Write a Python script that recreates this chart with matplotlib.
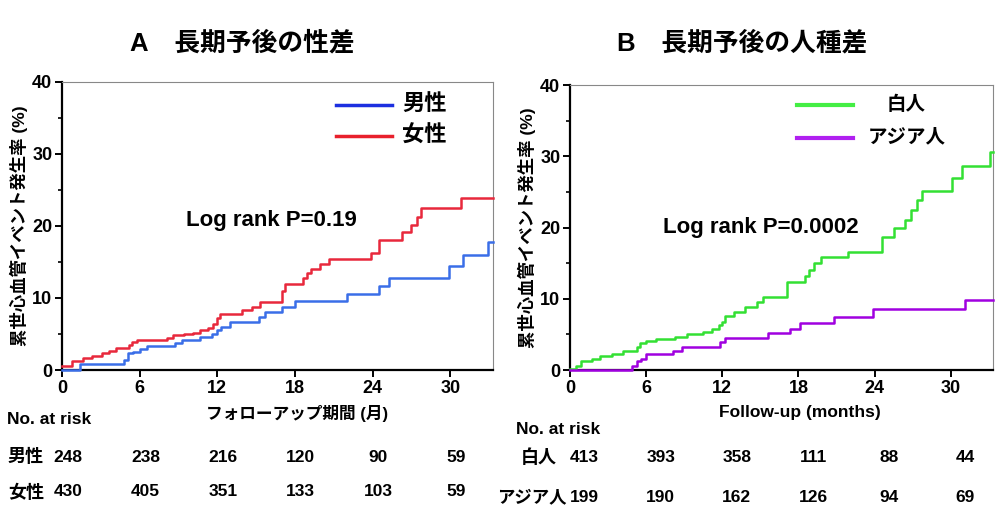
import matplotlib
matplotlib.use("Agg")
import matplotlib.pyplot as plt
from matplotlib.transforms import blended_transform_factory
from matplotlib.ticker import MultipleLocator

plt.rcParams['font.family'] = ['Liberation Sans', 'Noto Sans CJK JP', 'DejaVu Sans']
plt.rcParams['font.weight'] = 'bold'

# --- データ ---
male_t = [0, 1.4, 4.8, 5.1, 5.5, 6.0, 6.6, 8.7, 9.3, 10.7, 11.6, 12.0, 12.3, 13.0,
          15.2, 15.7, 17.0, 18.0, 22.0, 24.5, 25.3, 29.9, 31.0, 32.9, 33.3]
male_v = [0, 0.9, 1.4, 2.3, 2.5, 2.9, 3.3, 3.8, 4.2, 4.6, 5.0, 5.6, 6.0, 6.7,
          7.4, 8.0, 8.8, 9.6, 10.5, 11.6, 12.7, 14.4, 16.0, 17.8, 17.8]

female_t = [0, 0.8, 1.6, 2.3, 3.1, 3.6, 4.2, 5.2, 5.4, 5.8, 8.1, 8.6, 9.4, 10.1, 10.7,
            11.3, 11.7, 12.0, 12.2, 13.9, 14.7, 15.3, 17.0, 17.2, 18.6, 18.9, 19.2,
            19.9, 20.6, 23.9, 24.5, 26.3, 27.0, 27.4, 27.7, 30.8, 33.3]
female_v = [0.5, 1.2, 1.6, 1.9, 2.4, 2.7, 3.0, 3.5, 3.9, 4.2, 4.5, 4.8, 5.0, 5.2, 5.5,
            5.8, 6.4, 7.2, 7.8, 8.3, 8.8, 9.4, 11.0, 11.9, 12.7, 13.4, 14.0,
            14.7, 15.4, 16.3, 18.1, 19.1, 20.1, 21.3, 22.5, 23.8, 23.8]

white_t = [0, 0.5, 0.9, 1.7, 2.4, 3.3, 4.2, 5.3, 5.5, 6.0, 6.8, 8.3, 9.2, 10.5, 11.2,
           11.7, 12.0, 12.2, 12.9, 13.8, 14.7, 15.2, 17.1, 18.5, 18.8, 19.2, 19.8,
           21.9, 24.6, 25.5, 26.4, 26.9, 27.3, 27.7, 30.1, 30.9, 33.1, 33.3]
white_v = [0.2, 0.6, 1.2, 1.5, 1.9, 2.3, 2.7, 3.3, 3.8, 4.1, 4.3, 4.6, 5.0, 5.4, 5.8,
           6.3, 6.8, 7.6, 8.2, 8.8, 9.5, 10.2, 12.4, 13.2, 14.1, 15.0, 15.8,
           16.6, 18.7, 19.9, 21.1, 22.5, 23.9, 25.1, 26.9, 28.6, 30.6, 30.6]

asian_t = [0, 4.9, 5.3, 5.6, 6.0, 8.1, 8.8, 11.8, 12.2, 15.6, 17.3, 18.1, 20.8, 23.9, 31.1, 33.3]
asian_v = [0, 0.6, 1.2, 1.6, 2.2, 2.7, 3.2, 3.9, 4.5, 5.2, 5.8, 6.6, 7.5, 8.5, 9.8, 9.8]

risk_times = [0, 6, 12, 18, 24, 30]
risk_male = [248, 238, 216, 120, 90, 59]
risk_female = [430, 405, 351, 133, 103, 59]
risk_white = [413, 393, 358, 111, 88, 44]
risk_asian = [199, 190, 162, 126, 94, 69]

ylabel = "累世心血管イベント発生率 (%)"

fig = plt.figure(figsize=(10, 5.28), dpi=100)
axA = fig.add_axes([0.062, 0.2992, 0.431, 0.546])
axB = fig.add_axes([0.570, 0.2992, 0.4227, 0.5398])


def style_axes(ax):
    ax.set_xlim(0, 33.3)
    ax.set_ylim(0, 40)
    ax.set_xticks(risk_times)
    ax.yaxis.set_major_locator(MultipleLocator(10))
    ax.yaxis.set_minor_locator(MultipleLocator(5))
    for s in ['left', 'bottom']:
        ax.spines[s].set_linewidth(1.6)
        ax.spines[s].set_color('black')
    for s in ['top', 'right']:
        ax.spines[s].set_linewidth(0.8)
        ax.spines[s].set_color('#888888')
    ax.tick_params(axis='both', which='major', direction='out', length=5, width=1.4,
                   labelsize=13, pad=2)
    ax.tick_params(axis='y', which='minor', direction='out', length=3, width=1.2)
    for lab in ax.get_xticklabels() + ax.get_yticklabels():
        lab.set_fontweight('bold')
    ax.set_ylabel(ylabel, fontsize=12.5, fontweight='bold', labelpad=3)


# --- A ---
style_axes(axA)
axA.step(male_t, male_v, where='post', color='#3a6ee8', lw=1.8, clip_on=False, zorder=3)
axA.step(female_t, female_v, where='post', color='#e8283c', lw=1.8, clip_on=False, zorder=3)
axA.plot([21.2, 25.5], [36.8, 36.8], color='#1c2fe0', lw=2.5)
axA.plot([21.2, 25.5], [32.5, 32.5], color='#e8202c', lw=2.5)
axA.text(26.3, 36.8, "男性", fontsize=16, va='center', fontweight='bold')
axA.text(26.3, 32.5, "女性", fontsize=16, va='center', fontweight='bold')
axA.text(16.2, 20.8, "Log rank P=0.19", fontsize=16, ha='center', va='center', fontweight='bold')
fig.text(0.242, 0.918, "A　長期予後の性差", fontsize=18.5, ha='center', va='center', fontweight='bold')

# --- B ---
style_axes(axB)
axB.step(white_t, white_v, where='post', color='#33e033', lw=1.8, clip_on=False, zorder=3)
axB.step(asian_t, asian_v, where='post', color='#a000e0', lw=1.8, clip_on=False, zorder=3)
axB.plot([17.9, 22.3], [37.2, 37.2], color='#44ee44', lw=3)
axB.plot([17.9, 22.3], [32.6, 32.6], color='#b020f0', lw=3)
axB.text(26.5, 37.2, "白人", fontsize=14, ha='center', va='center', fontweight='bold')
axB.text(26.5, 32.6, "アジア人", fontsize=14, ha='center', va='center', fontweight='bold')
axB.text(15.0, 20.0, "Log rank P=0.0002", fontsize=16, ha='center', va='center', fontweight='bold')
fig.text(0.742, 0.918, "B　長期予後の人種差", fontsize=18.5, ha='center', va='center', fontweight='bold')

# --- x labels and risk table ---
fig.text(0.297, 1 - 414 / 528, "フォローアップ期間 (月)", fontsize=12, ha='center', va='center', fontweight='bold')
fig.text(0.800, 1 - 412 / 528, "Follow-up (months)", fontsize=12.5, ha='center', va='center', fontweight='bold')

fig.text(0.007, 1 - 419 / 528, "No. at risk", fontsize=12.5, ha='left', va='center', fontweight='bold')
fig.text(0.516, 1 - 429 / 528, "No. at risk", fontsize=12.5, ha='left', va='center', fontweight='bold')

fig.text(0.008, 1 - 457 / 528, "男性", fontsize=13, ha='left', va='center', fontweight='bold')
fig.text(0.008, 1 - 493 / 528, "女性", fontsize=13, ha='left', va='center', fontweight='bold')
fig.text(0.557, 1 - 458 / 528, "白人", fontsize=13, ha='right', va='center', fontweight='bold')
fig.text(0.567, 1 - 497 / 528, "アジア人", fontsize=12.5, ha='right', va='center', fontweight='bold')

trA = blended_transform_factory(axA.transData, fig.transFigure)
trB = blended_transform_factory(axB.transData, fig.transFigure)
for t, a, b in zip(risk_times, risk_male, risk_female):
    axA.text(t + 0.45, 1 - 457 / 528, str(a), transform=trA, fontsize=12.5, ha='center', va='center', fontweight='bold')
    axA.text(t + 0.45, 1 - 492 / 528, str(b), transform=trA, fontsize=12.5, ha='center', va='center', fontweight='bold')
for t, a, b in zip(risk_times, risk_white, risk_asian):
    axB.text(t + 1.15, 1 - 458 / 528, str(a), transform=trB, fontsize=12.5, ha='center', va='center', fontweight='bold')
    axB.text(t + 1.15, 1 - 497 / 528, str(b), transform=trB, fontsize=12.5, ha='center', va='center', fontweight='bold')

fig.savefig("out.png", dpi=100)
